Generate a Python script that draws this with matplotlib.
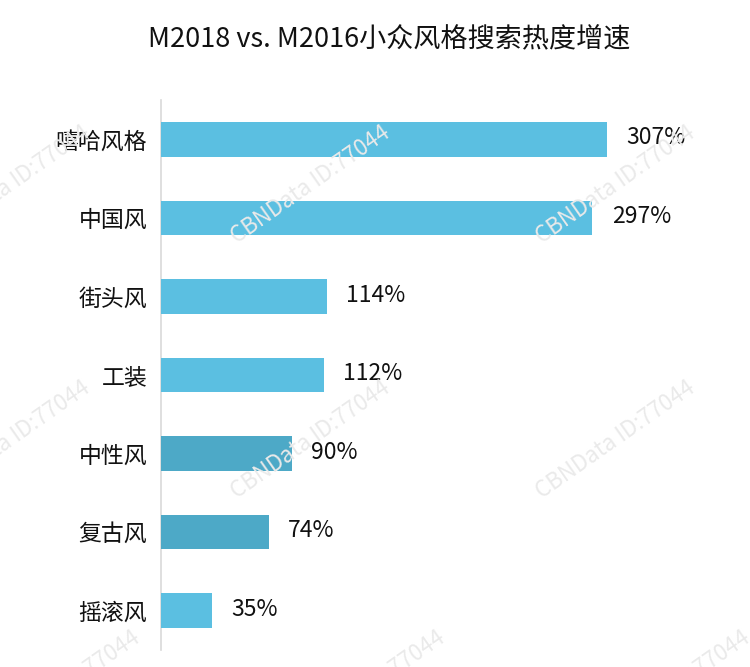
import matplotlib
matplotlib.use("Agg")
import matplotlib.pyplot as plt
import numpy as np

plt.rcParams['font.family'] = ['Noto Sans CJK SC', 'DejaVu Sans']

# data
categories = ["嘻哈风格", "中国风", "街头风", "工装", "中性风", "复古风", "摇滚风"]
growth     = [307, 297, 114, 112, 90, 74, 35]
highlight  = [False, False, False, False, True, True, False]
title      = "M2018 vs. M2016小众风格搜索热度增速"
watermark  = "CBNData ID:77044"

LIGHT = "#5BBFE1"
DARK  = "#4DA9C7"
W, H = 750, 667

fig = plt.figure(figsize=(W / 100, H / 100), dpi=100, facecolor="white")

# faint watermarks, partly cut at the edges like the original
wm_pos = [(10, 185), (310, 185), (615, 185),
          (10, 440), (310, 440), (615, 440),
          (60, 690), (365, 690), (670, 690)]
for px, py in wm_pos:
    fig.text(px / W, 1 - py / H, watermark, color="#EAEAEA", fontsize=16,
             rotation=35, ha="center", va="center", zorder=0)

ax = fig.add_axes([161 / W, 17 / H, 579 / W, 550 / H])
ax.patch.set_alpha(0)

y = np.arange(len(categories))
colors = [DARK if h else LIGHT for h in highlight]
ax.barh(y, growth, height=0.44, color=colors, zorder=3)

for yi, v in zip(y, growth):
    ax.annotate(f"{v}%", xy=(v, yi), xytext=(14, 1), textcoords="offset points",
                ha="left", va="center", fontsize=16.5, color="#111111")

ax.set_ylim(len(categories) - 0.5, -0.5)
ax.set_xlim(0, 579 / 1.4528)
ax.set_yticks(y)
ax.set_yticklabels(categories, fontsize=16.5, color="#111111")
ax.tick_params(axis="y", length=0, pad=10)
ax.set_xticks([])
for s in ["top", "right", "bottom"]:
    ax.spines[s].set_visible(False)
ax.spines["left"].set_color("#D9D9D9")
ax.spines["left"].set_linewidth(1.2)

fig.text(389 / W, 1 - 40 / H, title, ha="center", va="center",
         fontsize=19.5, color="#111111")

fig.savefig("out.png", dpi=100, facecolor="white")
